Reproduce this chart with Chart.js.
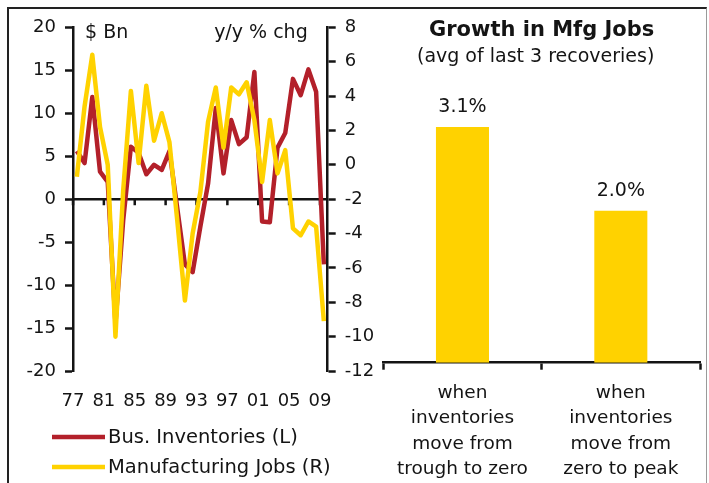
<!DOCTYPE html>
<html><head><meta charset="utf-8">
<script src="https://cdn.jsdelivr.net/npm/chart.js@4.4.0/dist/chart.umd.min.js"></script>
<style>
html,body{margin:0;padding:0;background:#fff;width:709px;height:483px;overflow:hidden;}
#frame{position:absolute;left:7px;top:7px;width:697px;height:490px;border-left:2.5px solid #222;border-top:2.5px solid #222;border-right:1.5px solid #9a9a9a;}
#c1{position:absolute;left:0;top:0;width:380px;height:483px;}
#c2{position:absolute;left:380px;top:0;width:329px;height:483px;}
</style></head><body>
<div id="frame"></div>
<canvas id="c1" width="380" height="483"></canvas>
<canvas id="c2" width="329" height="483"></canvas>
<script>
// ---------- data ----------
const years = [1977,1978,1979,1980,1981,1982,1983,1984,1985,1986,1987,1988,1989,1990,1991,1992,1993,1994,1995,1996,1997,1998,1999,2000,2001,2002,2003,2004,2005,2006,2007,2008,2009];
const tickLabels = ['77','81','85','89','93','97','01','05','09'];
const inventories = [5.6,4.2,11.9,3.2,2.0,-14.5,-2.5,6.1,5.4,2.9,4.0,3.4,5.6,-1.0,-7.6,-8.5,-3.2,1.8,10.6,3.0,9.2,6.4,7.2,14.8,-2.6,-2.7,6.0,7.7,14.0,12.1,15.1,12.5,-7.6];
const mfgJobs = [-0.7,3.4,6.4,2.2,0.0,-10.0,-1.5,4.3,0.1,4.6,1.4,3.0,1.3,-3.2,-7.9,-4.0,-1.6,2.5,4.5,1.0,4.5,4.1,4.8,2.6,-1.0,2.6,-0.5,0.85,-3.7,-4.1,-3.3,-3.6,-9.1];
const seriesNames = ['Bus. Inventories (L)','Manufacturing Jobs (R)'];
const barCategories = [['when','inventories','move from','trough to zero'],['when','inventories','move from','zero to peak']];
const barValues = [3.1, 2.0];

// ---------- styles ----------
const FONT = "'DejaVu Sans', Verdana, sans-serif";
const INK = '#141414';
const RED = '#B3202A';
const YELLOW = '#FFD200';

const zeroAxis = {
  id: 'zeroAxis',
  beforeDatasetsDraw(chart) {
    const {ctx, chartArea: a, scales: {x, yL}} = chart;
    const y0 = yL.getPixelForValue(0);
    ctx.save();
    ctx.strokeStyle = INK; ctx.lineWidth = 2.5;
    ctx.beginPath();
    ctx.moveTo(a.left, y0); ctx.lineTo(a.right, y0);
    x.ticks.forEach(t => { const px = x.getPixelForValue(t.value); ctx.moveTo(px, y0); ctx.lineTo(px, y0 + 6); });
    ctx.stroke();
    ctx.restore();
  }
};

const lineExtras = {
  id: 'lineExtras',
  afterDraw(chart) {
    const {ctx, chartArea: a} = chart;
    ctx.save();
    ctx.fillStyle = INK;
    ctx.font = `19px ${FONT}`;
    ctx.textBaseline = 'middle';
    ctx.textAlign = 'left';
    ctx.fillText('$ Bn', a.left + 12, a.top + 6);
    ctx.textAlign = 'right';
    ctx.fillText('y/y % chg', a.right - 20, a.top + 6);
    // legend
    const colors = [RED, YELLOW];
    ctx.textAlign = 'left';
    ctx.font = `19.5px ${FONT}`;
    seriesNames.forEach((n, i) => {
      const y = 437 + i * 30;
      ctx.strokeStyle = colors[i]; ctx.lineWidth = 4.5;
      ctx.beginPath(); ctx.moveTo(52, y); ctx.lineTo(105, y); ctx.stroke();
      ctx.fillText(n, 108, y + 1);
    });
    ctx.restore();
  }
};

new Chart(document.getElementById('c1'), {
  type: 'line',
  data: {
    datasets: [
      {label: seriesNames[0], data: years.map((y, i) => ({x: i + 0.5, y: inventories[i]})), borderColor: RED, borderWidth: 4.5, borderJoinStyle: 'round', pointRadius: 0, tension: 0, yAxisID: 'yL', order: 2},
      {label: seriesNames[1], data: years.map((y, i) => ({x: i + 0.5, y: mfgJobs[i]})), borderColor: YELLOW, borderWidth: 4.5, borderJoinStyle: 'round', pointRadius: 0, tension: 0, yAxisID: 'yR', order: 1}
    ]
  },
  options: {
    responsive: false, animation: false, devicePixelRatio: 1,
    layout: {padding: {top: 27.3, left: 0, right: 0, bottom: 0}},
    plugins: {legend: {display: false}, tooltip: {enabled: false}},
    scales: {
      x: {
        type: 'linear', min: 0, max: 33, position: 'bottom',
        afterBuildTicks: s => { s.ticks = tickLabels.map((_, i) => ({value: i * 4})); },
        afterFit: s => { s.height = 112; },
        ticks: {callback: (v, i) => tickLabels[i], font: {family: FONT, size: 18}, color: INK, padding: 20, maxRotation: 0, autoSkip: false},
        grid: {display: false, drawTicks: false},
        border: {display: false}
      },
      yL: {
        position: 'left', min: -20, max: 20,
        afterFit: s => { s.width = 73; },
        ticks: {stepSize: 5, font: {family: FONT, size: 18}, color: INK, padding: 9},
        grid: {drawOnChartArea: false, tickLength: 8, tickWidth: 2.5, color: INK},
        border: {color: INK, width: 2.5}
      },
      yR: {
        position: 'right', min: -12, max: 8,
        afterFit: s => { s.width = 52.3; },
        ticks: {stepSize: 2, font: {family: FONT, size: 18}, color: INK, padding: 9},
        grid: {drawOnChartArea: false, tickLength: 8, tickWidth: 2.5, color: INK},
        border: {color: INK, width: 2.5}
      }
    }
  },
  plugins: [zeroAxis, lineExtras]
});

const barExtras = {
  id: 'barExtras',
  afterDraw(chart) {
    const {ctx, chartArea: a} = chart;
    const cx = (a.left + a.right) / 2;
    ctx.save();
    ctx.fillStyle = INK;
    ctx.textAlign = 'center';
    ctx.textBaseline = 'middle';
    ctx.font = `bold 21px ${FONT}`;
    ctx.fillText('Growth in Mfg Jobs', cx, 31);
    ctx.font = `19px ${FONT}`;
    ctx.fillText('(avg of last 3 recoveries)', cx - 6, 57);
    ctx.font = `19px ${FONT}`;
    chart.getDatasetMeta(0).data.forEach((bar, i) => {
      ctx.fillText(barValues[i].toFixed(1) + '%', bar.x, bar.y - 20);
    });
    ctx.restore();
  }
};

new Chart(document.getElementById('c2'), {
  type: 'bar',
  data: {labels: barCategories, datasets: [{data: barValues, backgroundColor: YELLOW, barPercentage: 0.335, categoryPercentage: 1}]},
  options: {
    responsive: false, animation: false, devicePixelRatio: 1,
    layout: {padding: {left: 3.3, right: 9, top: 58.7, bottom: 0}},
    plugins: {legend: {display: false}, tooltip: {enabled: false}},
    scales: {
      x: {
        afterFit: s => { s.height = 120.3; },
        ticks: {font: {family: FONT, size: 18.5, lineHeight: 1.368}, color: INK, padding: 11, maxRotation: 0, autoSkip: false},
        grid: {offset: true, drawOnChartArea: false, tickLength: 7, tickWidth: 2.5, color: INK},
        border: {color: INK, width: 2.5}
      },
      y: {display: false, min: 0, max: 4}
    }
  },
  plugins: [barExtras]
});
</script></body></html>
